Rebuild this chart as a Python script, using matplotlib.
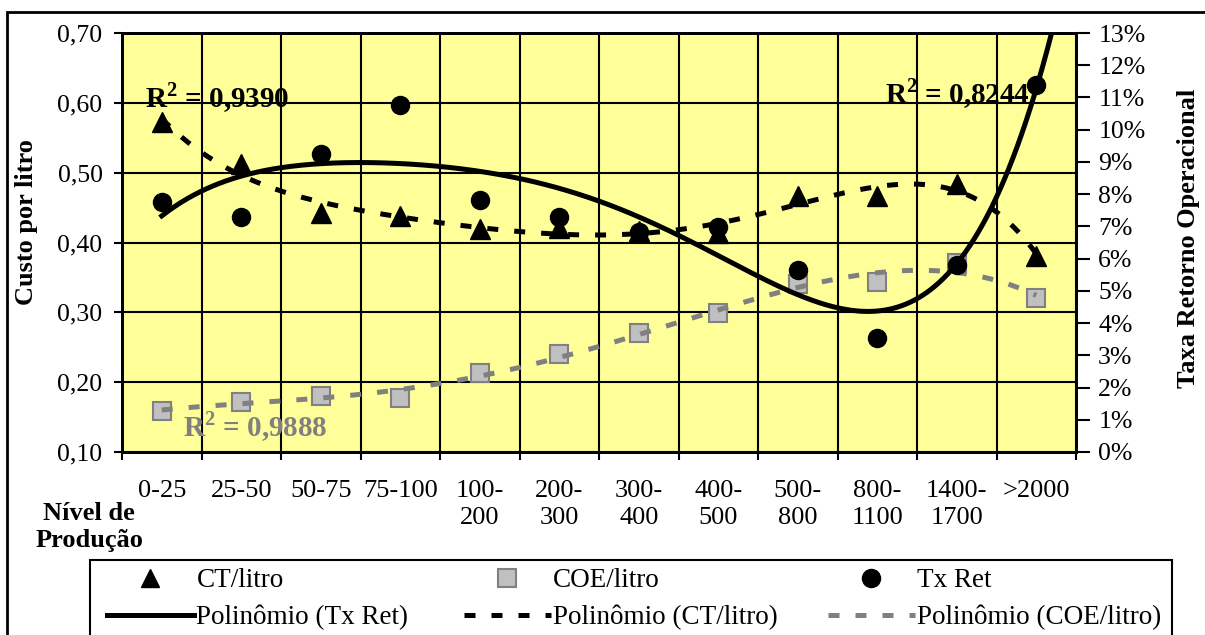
import numpy as np
import matplotlib
matplotlib.use("Agg")
import matplotlib.pyplot as plt
from matplotlib.lines import Line2D
from matplotlib.patches import Rectangle

# ---------------- data ----------------
categories = ["0-25", "25-50", "50-75", "75-100", "100-\n200", "200-\n300",
              "300-\n400", "400-\n500", "500-\n800", "800-\n1100", "1400-\n1700", ">2000"]
ct_litro = [0.573, 0.512, 0.442, 0.438, 0.419, 0.421, 0.417, 0.413, 0.467, 0.467, 0.484, 0.381]
coe_litro = [0.159, 0.172, 0.180, 0.178, 0.213, 0.240, 0.270, 0.299, 0.340, 0.343, 0.371, 0.320]
tx_ret = [7.76, 7.30, 9.25, 10.78, 7.83, 7.30, 6.83, 6.99, 5.65, 3.54, 5.80, 11.40]  # %
left_ticks = [0.10, 0.20, 0.30, 0.40, 0.50, 0.60, 0.70]
left_labels = ["0,10", "0,20", "0,30", "0,40", "0,50", "0,60", "0,70"]
right_ticks = list(range(0, 14))
right_labels = [f"{v}%" for v in right_ticks]
r2_ct, r2_coe, r2_tx = "0,9390", "0,9888", "0,8244"

plt.rcParams['font.family'] = ['Liberation Serif', 'DejaVu Serif']
plt.rcParams['mathtext.fontset'] = 'custom'
plt.rcParams['mathtext.rm'] = 'Liberation Serif'
plt.rcParams['mathtext.bf'] = 'Liberation Serif:bold'

W, H = 1205, 635
fig = plt.figure(figsize=(W / 100, H / 100), dpi=100)
fig.patch.set_facecolor("white")

def fx(px):
    return px / W

def fy(py):
    return 1 - py / H

ax = fig.add_axes([fx(122), fy(452), fx(1076) - fx(122), fy(33) - fy(452)])
ax.set_facecolor("#FFFF99")
ax2 = ax.twinx()

n = len(categories)
x = np.arange(1, n + 1)
xs = np.linspace(1, n, 400)
xs_tx = np.linspace(1, n + 0.3, 420)

# polynomial trendlines (Excel style, x = 1..n)
deg_ct, deg_coe, deg_tx = 5, 4, 5
c_ct = np.polyfit(x, ct_litro, deg_ct)
c_coe = np.polyfit(x, coe_litro, deg_coe)
c_tx = np.polyfit(x, tx_ret, deg_tx)

lw_trend = 3.6
dash = (0, (2.2, 3.2))
# primary axis: markers + trendlines
ax.plot(x, ct_litro, ls="none", marker="^", ms=14.5, color="black", zorder=3)
ax.plot(x, coe_litro, ls="none", marker="s", ms=13.5, mfc="#C0C0C0", mec="#808080", mew=1.5, zorder=3)
ax.plot(xs, np.polyval(c_ct, xs), color="black", lw=lw_trend, ls=dash, zorder=4)
ax.plot(xs, np.polyval(c_coe, xs), color="#808080", lw=lw_trend, ls=dash, zorder=4)

ax2.plot(x, tx_ret, ls="none", marker="o", ms=13, color="black", zorder=3)
ax2.plot(xs_tx, np.polyval(c_tx, xs_tx), color="black", lw=lw_trend, zorder=4)

ax.set_xlim(0.5, n + 0.5)
ax.set_ylim(0.10, 0.70)
ax2.set_ylim(0, 13)

ax.set_xticks(np.arange(0.5, n + 1, 1.0))
ax.set_xticklabels([])
ax.set_xticks(x, minor=True)
ax.set_xticklabels(categories, minor=True, fontsize=19, linespacing=1.3, va="top")
ax.tick_params(axis="x", which="major", direction="out", length=6, width=1.5)
ax.tick_params(axis="x", which="minor", length=0, pad=20)

ax.set_yticks(left_ticks)
ax.set_yticklabels(left_labels, fontsize=18.5)
ax.tick_params(axis="y", direction="out", length=6, width=1.5, pad=8)
ax2.set_yticks(right_ticks)
ax2.set_yticklabels(right_labels, fontsize=18.5)
ax2.tick_params(axis="y", direction="out", length=10, width=1.5, pad=6)

ax.grid(True, which="major", color="black", lw=1.5)
ax.set_axisbelow(True)
for a in (ax, ax2):
    for s in a.spines.values():
        s.set_linewidth(2)
        s.set_color("black")

# R^2 annotations
r2_kw = dict(fontsize=21, fontweight="bold", va="center", ha="left", zorder=5)
ax.text(0.79, 0.607, r"R$^{\mathbf{2}}$ = " + r2_ct, color="black", **r2_kw)
ax.text(10.1, 0.613, r"R$^{\mathbf{2}}$ = " + r2_tx, color="black", **r2_kw)
ax.text(1.27, 0.136, r"R$^{\mathbf{2}}$ = " + r2_coe, color="#808080", **r2_kw)

# axis titles
fig.text(fx(27), fy(222), "Custo por litro", rotation=90, fontsize=19, fontweight="bold", ha="center", va="center")
fig.text(fx(1188), fy(238), "Taxa Retorno Operacional", rotation=90, fontsize=19, fontweight="bold", ha="center", va="center")
fig.text(fx(89), fy(527), "Nível de\nProdução", fontsize=19, fontweight="bold", ha="center", va="center", linespacing=1.25)

# outer chart frame and legend frame
fig.patches.append(Rectangle((fx(7), fy(700)), fx(1300) - fx(7), fy(12) - fy(700), transform=fig.transFigure,
                             fill=False, lw=2, ec="black", zorder=0))
fig.patches.append(Rectangle((fx(90), fy(700)), fx(1172) - fx(90), fy(560) - fy(700), transform=fig.transFigure,
                             fill=False, lw=1.5, ec="black", zorder=0))

# legend (three columns)
h_ct = Line2D([], [], ls="none", marker="^", ms=13, color="black")
h_coe = Line2D([], [], ls="none", marker="s", ms=13, mfc="#C0C0C0", mec="#808080", mew=1.5)
h_tx = Line2D([], [], ls="none", marker="o", ms=13, color="black")
p_tx = Line2D([], [], color="black", lw=lw_trend)
p_ct = Line2D([], [], color="black", lw=lw_trend, ls=dash)
p_coe = Line2D([], [], color="#808080", lw=lw_trend, ls=dash)
cols = [
    (107, [h_ct, p_tx], ["CT/litro", "Polinômio (Tx Ret)"]),
    (464, [h_coe, p_ct], ["COE/litro", "Polinômio (CT/litro)"]),
    (828, [h_tx, p_coe], ["Tx Ret", "Polinômio (COE/litro)"]),
]
for xpx, hs, ls_ in cols:
    fig.legend(hs, ls_, loc="upper left", bbox_to_anchor=(fx(xpx), fy(568)), frameon=False,
               fontsize=19.5, borderpad=0, borderaxespad=0, handlelength=3.2, handletextpad=0.1,
               labelspacing=0.45)

fig.savefig("out.png", dpi=100)
